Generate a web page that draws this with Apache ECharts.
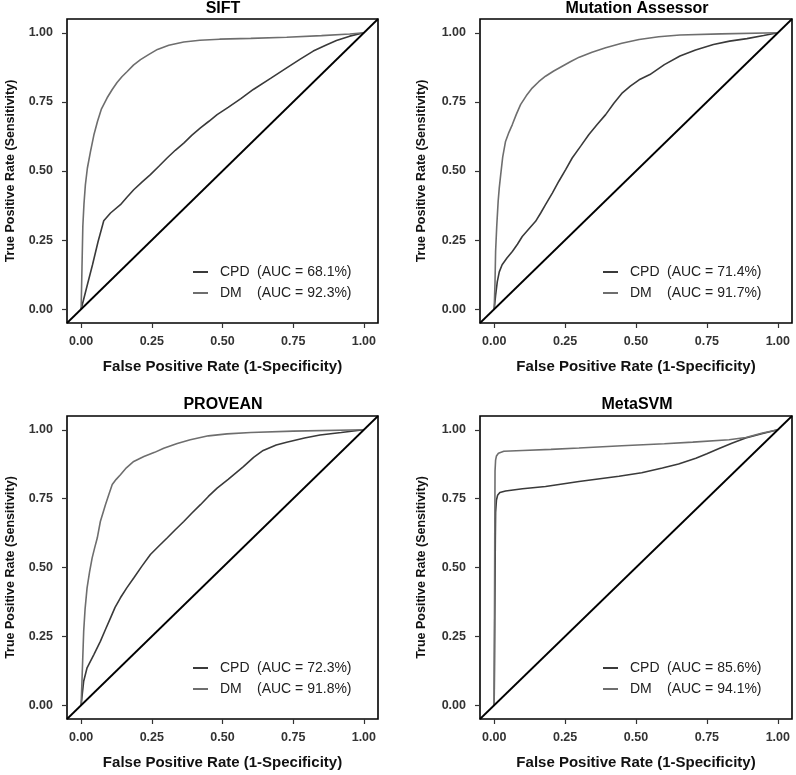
<!DOCTYPE html>
<html>
<head>
<meta charset="utf-8">
<script src="https://cdn.jsdelivr.net/npm/echarts@6/dist/echarts.min.js"></script>
<style>
html,body{margin:0;padding:0;background:#fff;}
#chart{width:796px;height:775px;}
</style>
</head>
<body>
<div id="chart"></div>
<script>
// ---- data ----
const panelTitles = ['SIFT', 'Mutation Assessor', 'PROVEAN', 'MetaSVM'];
const methodNames = ['CPD', 'DM'];
const aucCPD = [68.1, 71.4, 72.3, 85.6];
const aucDM = [92.3, 91.7, 91.8, 94.1];
const tickValues = [0, 0.25, 0.5, 0.75, 1];
const diagonal = [[-0.05, -0.05], [1.05, 1.05]];

const siftCPD = [[0,0],[0.02,0.08],[0.04,0.16],[0.06,0.245],[0.08,0.32],[0.104,0.348],[0.139,0.378],[0.162,0.405],[0.186,0.432],[0.215,0.46],[0.245,0.487],[0.275,0.517],[0.304,0.547],[0.333,0.575],[0.363,0.601],[0.392,0.63],[0.422,0.656],[0.452,0.68],[0.481,0.704],[0.52,0.73],[0.565,0.762],[0.609,0.795],[0.67,0.835],[0.727,0.873],[0.775,0.905],[0.821,0.934],[0.865,0.955],[0.903,0.972],[0.95,0.988],[1,1]];
const siftDM = [[0,0],[0.003,0.15],[0.006,0.3],[0.01,0.38],[0.015,0.45],[0.022,0.51],[0.033,0.57],[0.045,0.63],[0.058,0.68],[0.072,0.725],[0.092,0.765],[0.11,0.795],[0.127,0.82],[0.145,0.842],[0.163,0.86],[0.185,0.883],[0.21,0.903],[0.24,0.922],[0.27,0.94],[0.31,0.955],[0.363,0.967],[0.42,0.973],[0.49,0.977],[0.6,0.98],[0.727,0.984],[0.85,0.99],[0.95,0.996],[1,1]];

const maCPD = [[0,0],[0.005,0.05],[0.011,0.1],[0.018,0.135],[0.028,0.161],[0.045,0.185],[0.064,0.209],[0.082,0.235],[0.099,0.263],[0.122,0.29],[0.146,0.318],[0.164,0.348],[0.181,0.378],[0.205,0.42],[0.228,0.463],[0.252,0.505],[0.275,0.547],[0.305,0.59],[0.334,0.632],[0.363,0.668],[0.393,0.704],[0.422,0.745],[0.452,0.783],[0.48,0.807],[0.511,0.83],[0.549,0.849],[0.6,0.885],[0.655,0.916],[0.71,0.938],[0.773,0.958],[0.83,0.97],[0.891,0.979],[0.95,0.99],[1,1]];
const maDM = [[0,0],[0.003,0.1],[0.005,0.209],[0.009,0.3],[0.014,0.39],[0.018,0.44],[0.023,0.487],[0.03,0.55],[0.04,0.607],[0.052,0.64],[0.064,0.668],[0.078,0.705],[0.093,0.74],[0.113,0.772],[0.134,0.8],[0.157,0.823],[0.181,0.843],[0.21,0.862],[0.24,0.879],[0.27,0.896],[0.3,0.912],[0.345,0.93],[0.393,0.946],[0.45,0.962],[0.511,0.976],[0.58,0.986],[0.655,0.992],[0.8,0.996],[1,1]];

const proveanCPD = [[0,0],[0.004,0.04],[0.009,0.087],[0.021,0.136],[0.045,0.184],[0.068,0.232],[0.086,0.275],[0.104,0.317],[0.12,0.355],[0.139,0.39],[0.162,0.427],[0.186,0.462],[0.215,0.505],[0.245,0.547],[0.275,0.578],[0.304,0.607],[0.333,0.637],[0.363,0.667],[0.392,0.698],[0.422,0.728],[0.45,0.758],[0.481,0.788],[0.52,0.82],[0.574,0.866],[0.61,0.9],[0.644,0.925],[0.69,0.945],[0.727,0.955],[0.79,0.97],[0.845,0.981],[0.92,0.99],[1,1]];
const proveanDM = [[0,0],[0.004,0.12],[0.009,0.268],[0.014,0.35],[0.021,0.426],[0.03,0.485],[0.039,0.535],[0.048,0.572],[0.057,0.607],[0.068,0.667],[0.086,0.728],[0.098,0.765],[0.11,0.801],[0.124,0.82],[0.139,0.837],[0.16,0.862],[0.186,0.885],[0.222,0.903],[0.26,0.918],[0.292,0.933],[0.34,0.95],[0.386,0.964],[0.45,0.978],[0.516,0.985],[0.6,0.99],[0.75,0.995],[1,1]];

const metasvmCPD = [[0,0],[0.002,0.3],[0.004,0.6],[0.005,0.7],[0.008,0.745],[0.012,0.762],[0.02,0.772],[0.04,0.778],[0.1,0.786],[0.181,0.794],[0.299,0.812],[0.44,0.831],[0.52,0.844],[0.593,0.861],[0.65,0.876],[0.711,0.897],[0.75,0.913],[0.793,0.932],[0.84,0.952],[0.887,0.97],[0.94,0.985],[1,1]];
const metasvmDM = [[0,0],[0.001,0.3],[0.002,0.6],[0.003,0.85],[0.005,0.89],[0.008,0.905],[0.015,0.915],[0.034,0.922],[0.1,0.925],[0.2,0.929],[0.299,0.934],[0.45,0.942],[0.6,0.949],[0.7,0.955],[0.828,0.964],[0.887,0.972],[0.946,0.988],[1,1]];

const cpdCurves = [siftCPD, maCPD, proveanCPD, metasvmCPD];
const dmCurves = [siftDM, maDM, proveanDM, metasvmDM];

// ---- layout / style ----
const FONT = '"Liberation Sans", Arial, Helvetica, sans-serif';
const grids = [
  {left: 67, top: 19, width: 311, height: 304},
  {left: 480, top: 19, width: 312, height: 304},
  {left: 67, top: 416, width: 311, height: 303},
  {left: 480, top: 416, width: 312, height: 303}
];
const yNameGap = [50, 52, 50, 52];
const titleCenters = [[223, 9], [637, 9], [223, 405], [637, 405]];
const legendPos = [[193, 264], [603, 264], [193, 660], [603, 660]];
const COLOR_CPD = '#3a3a3a';
const COLOR_DM = '#6e6e6e';

const option = {
  animation: false,
  backgroundColor: '#fff',
  grid: grids.map(g => Object.assign({show: true, borderColor: '#000', borderWidth: 1.6, backgroundColor: 'transparent', containLabel: false}, g)),
  xAxis: grids.map((g, i) => ({
    type: 'value', gridIndex: i, min: -0.05, max: 1.05, position: 'bottom',
    name: 'False Positive Rate (1-Specificity)', nameLocation: 'middle', nameGap: 36,
    nameTextStyle: {fontFamily: FONT, fontWeight: 'bold', fontSize: 15, color: '#111'},
    axisLine: {show: false, onZero: false},
    splitLine: {show: false},
    axisTick: {show: true, inside: false, length: 5, lineStyle: {color: '#333', width: 1.2}, customValues: tickValues},
    axisLabel: {show: true, margin: 12, customValues: tickValues, formatter: v => v.toFixed(2),
      fontFamily: FONT, fontWeight: 'bold', fontSize: 12.5, color: '#333'}
  })),
  yAxis: grids.map((g, i) => ({
    type: 'value', gridIndex: i, min: -0.05, max: 1.05, position: 'left',
    name: 'True Positive Rate (Sensitivity)', nameLocation: 'middle', nameGap: yNameGap[i],
    nameTextStyle: {fontFamily: FONT, fontWeight: 'bold', fontSize: 12.5, color: '#111'},
    axisLine: {show: false, onZero: false},
    splitLine: {show: false},
    axisTick: {show: true, inside: false, length: 5, lineStyle: {color: '#333', width: 1.2}, customValues: tickValues},
    axisLabel: {show: true, margin: 14, customValues: tickValues, formatter: v => v.toFixed(2),
      fontFamily: FONT, fontWeight: 'bold', fontSize: 12.5, color: '#333'}
  })),
  legend: grids.map((g, i) => ({
    orient: 'vertical', left: legendPos[i][0], top: legendPos[i][1], padding: 0,
    itemWidth: 15, itemHeight: 2, itemGap: 5, icon: 'rect',
    data: [`CPD  (AUC = ${aucCPD[i]}%)`, `DM  (AUC = ${aucDM[i]}%)`],
    formatter: name => {
      const m = name.match(/^(\S+)\s+(.*)$/);
      return `{n|${m[1]}}{v|${m[2]}}`;
    },
    textStyle: {fontFamily: FONT, fontSize: 14, color: '#222', lineHeight: 16,
      rich: {n: {width: 37, padding: [0, 0, 0, 7], fontFamily: FONT, fontSize: 14, color: '#222'},
             v: {fontFamily: FONT, fontSize: 14, color: '#222'}}}
  })),
  graphic: panelTitles.map((t, i) => ({
    type: 'text', x: titleCenters[i][0], y: titleCenters[i][1],
    style: {text: t, align: 'center', verticalAlign: 'middle', fill: '#000',
      font: 'bold 16px ' + FONT}
  })),
  series: []
};

for (let i = 0; i < 4; i++) {
  option.series.push({
    type: 'line', name: `CPD  (AUC = ${aucCPD[i]}%)`, xAxisIndex: i, yAxisIndex: i,
    data: cpdCurves[i], showSymbol: false, color: COLOR_CPD,
    lineStyle: {color: COLOR_CPD, width: 1.6}, clip: true
  });
  option.series.push({
    type: 'line', name: `DM  (AUC = ${aucDM[i]}%)`, xAxisIndex: i, yAxisIndex: i,
    data: dmCurves[i], showSymbol: false, color: COLOR_DM,
    lineStyle: {color: COLOR_DM, width: 1.6}, clip: true
  });
  option.series.push({
    type: 'line', name: 'diagonal', xAxisIndex: i, yAxisIndex: i,
    data: diagonal, showSymbol: false, color: '#000',
    lineStyle: {color: '#000', width: 1.8}, clip: true, silent: true
  });
}

const chart = echarts.init(document.getElementById('chart'), null, {renderer: 'canvas'});
chart.setOption(option);
</script>
</body>
</html>
